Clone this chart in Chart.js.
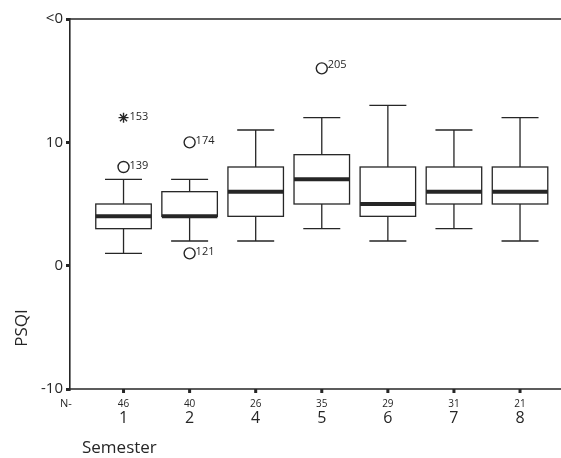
<!DOCTYPE html>
<html><head><meta charset="utf-8">
<script src="https://cdn.jsdelivr.net/npm/chart.js@4"></script>
<style>html,body{margin:0;padding:0;background:#fff;overflow:hidden}canvas{display:block}</style>
</head><body><canvas id="c" width="561" height="458" style="width:561px;height:458px"></canvas>
<script>
const categories = ['1','2','4','5','6','7','8'];
const nCounts = [46,40,26,35,29,31,21];
const whiskerLow = [1,2,2,3,2,3,2];
const q1 = [3,4,4,5,4,5,5];
const medians = [4,4,6,7,5,6,6];
const q3 = [5,6,8,9,8,8,8];
const whiskerHigh = [7,7,11,12,13,11,12];
const outlierCats = [0,0,1,1,3];
const outlierValues = [8,12,10,1,16];
const outlierIds = ['139','153','174','121','205'];
const outlierStyles = ['circle','star','circle','circle','circle'];
const yTicks = [-10,0,10,20];
const yTickLabels = ['-10','0','10','<0'];

const INK = '#262626';
const FONT = 'Open Sans, Noto Sans, sans-serif';

const boxPlugin = {
  id:'boxes',
  beforeDatasetsDraw(chart){
    const ctx = chart.ctx, x = chart.scales.x, y = chart.scales.y, a = chart.chartArea;
    ctx.save();
    ctx.strokeStyle = INK; ctx.lineWidth = 1.6;
    ctx.beginPath(); ctx.moveTo(a.left, a.top); ctx.lineTo(a.right, a.top); ctx.stroke();
    ctx.beginPath(); ctx.moveTo(a.left, a.bottom); ctx.lineTo(a.right, a.bottom); ctx.stroke();
    ctx.fillStyle = INK;
    ctx.fillRect(a.left-4, a.bottom-1, 4, 3);
    categories.forEach((c,i)=>{
      const cx = x.getPixelForValue(i);
      const hw = x.getPixelForValue(i+0.42) - cx;
      const cw = x.getPixelForValue(i+0.28) - cx;
      const yl = y.getPixelForValue(whiskerLow[i]);
      const yh = y.getPixelForValue(whiskerHigh[i]);
      const y1 = y.getPixelForValue(q1[i]);
      const y3 = y.getPixelForValue(q3[i]);
      const ym = y.getPixelForValue(medians[i]);
      ctx.strokeStyle = INK; ctx.lineWidth = 1.3;
      ctx.beginPath();
      ctx.moveTo(cx, y3); ctx.lineTo(cx, yh);
      ctx.moveTo(cx-cw, yh); ctx.lineTo(cx+cw, yh);
      ctx.moveTo(cx, y1); ctx.lineTo(cx, yl);
      ctx.moveTo(cx-cw, yl); ctx.lineTo(cx+cw, yl);
      ctx.stroke();
      ctx.fillStyle = '#fff';
      ctx.fillRect(cx-hw, y3, 2*hw, y1-y3);
      ctx.strokeRect(cx-hw, y3, 2*hw, y1-y3);
      ctx.lineWidth = 4;
      ctx.beginPath(); ctx.moveTo(cx-hw, ym); ctx.lineTo(cx+hw, ym); ctx.stroke();
      ctx.fillStyle = INK;
      ctx.fillRect(cx-1.5, a.bottom, 3, 4);
      ctx.textAlign = 'center'; ctx.textBaseline = 'middle';
      ctx.font = '10px ' + FONT;
      ctx.fillText(String(nCounts[i]), cx, a.bottom + 15);
      ctx.font = '16px ' + FONT;
      ctx.fillText(c, cx, a.bottom + 29);
    });
    ctx.textAlign = 'left'; ctx.textBaseline = 'middle';
    ctx.font = '11px ' + FONT;
    ctx.fillText('N-', a.left - 10, a.bottom + 15);
    ctx.font = '17px ' + FONT;
    ctx.fillText('Semester', 82, a.bottom + 59);
    ctx.save();
    ctx.translate(22, 328);
    ctx.rotate(-Math.PI/2);
    ctx.textAlign = 'center';
    ctx.fillText('PSQI', 0, 0);
    ctx.restore();
    ctx.restore();
  },
  afterDatasetsDraw(chart){
    const ctx = chart.ctx, x = chart.scales.x, y = chart.scales.y;
    ctx.save();
    ctx.fillStyle = INK; ctx.font = '11px ' + FONT;
    ctx.textAlign = 'left'; ctx.textBaseline = 'middle';
    outlierIds.forEach((id,i)=>{
      const px = x.getPixelForValue(outlierCats[i]);
      const py = y.getPixelForValue(outlierValues[i]);
      const dy = id==='205' ? -3 : -1;
      ctx.fillText(id, px + 6, py + dy);
    });
    ctx.restore();
  }
};

new Chart(document.getElementById('c'), {
  type:'scatter',
  data:{ datasets:[{
    data: outlierValues.map((v,i)=>({x: outlierCats[i], y: v})),
    pointStyle: outlierStyles,
    radius: outlierStyles.map(s=> s==='star' ? 5 : 5.5),
    borderColor: INK, backgroundColor: 'rgba(0,0,0,0)', borderWidth: 1.4
  }]},
  plugins:[boxPlugin],
  options:{
    responsive:false, animation:false, devicePixelRatio:1,
    plugins:{ legend:{display:false}, tooltip:{enabled:false} },
    layout:{ autoPadding:false, padding:{ top:19, right:0, bottom:69, left:0 } },
    scales:{
      x:{ type:'linear', display:false, min:-0.81, max:6.62 },
      y:{ type:'linear', min:-10, max:20,
        afterBuildTicks: s => { s.ticks = yTicks.map(v=>({value:v})); },
        afterFit: s => { s.width = 70; },
        ticks:{ callback:(v)=> yTickLabels[yTicks.indexOf(v)], font:{size:15, family:FONT}, color:INK, padding:3 },
        grid:{ drawOnChartArea:false, tickLength:4, lineWidth:3, color:INK },
        border:{ color:INK, width:1.6 }
      }
    }
  }
});
</script></body></html>
